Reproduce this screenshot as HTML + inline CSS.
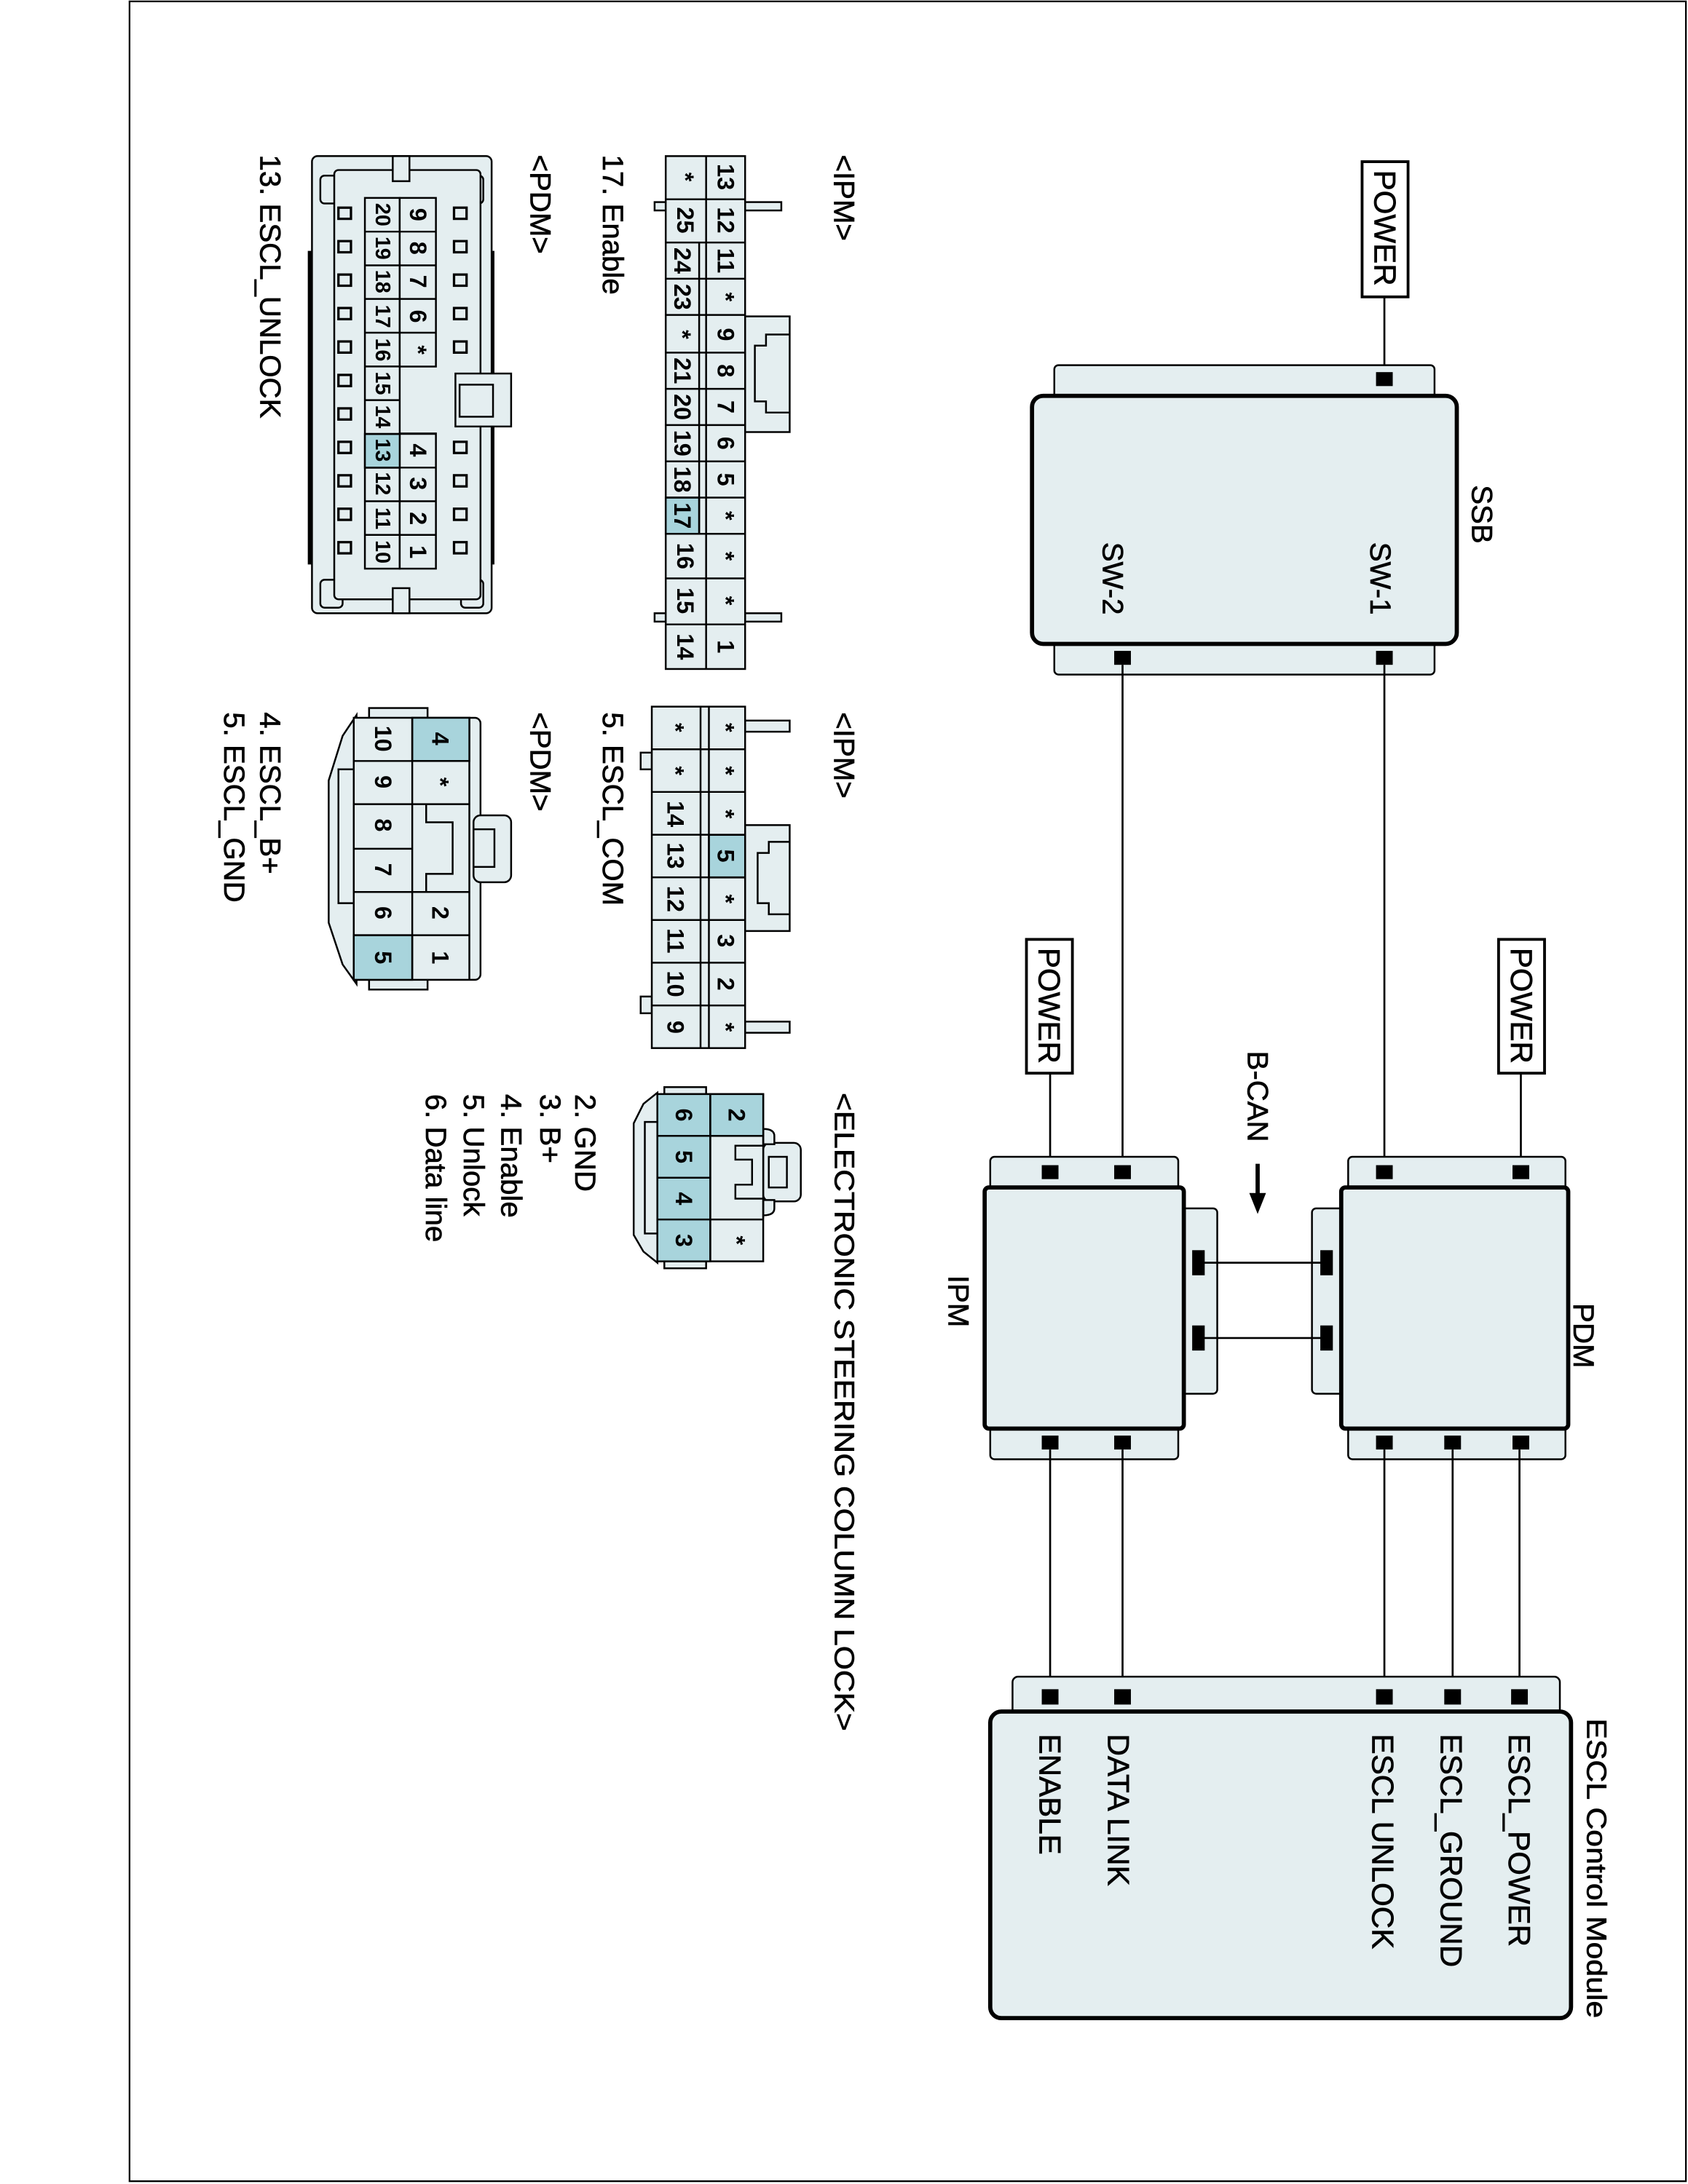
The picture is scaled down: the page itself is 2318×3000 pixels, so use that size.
<!DOCTYPE html>
<html><head><meta charset="utf-8"><style>
html,body{margin:0;padding:0;background:#fff}
svg{display:block}
text{font-family:"Liberation Sans",Arial,sans-serif;fill:#000;dominant-baseline:central;stroke:#000;stroke-width:0.35}
.t{text-anchor:start}
.c{text-anchor:middle;font-size:17px;font-weight:bold}
.c text{stroke-width:0}
.f{fill:#e4eef0;stroke:#000;stroke-width:1.3}
.h{fill:#a8d4dc;stroke:#000;stroke-width:1.3}
.k{stroke:#000;stroke-width:1.3;fill:none}
.w{stroke:#000;stroke-width:1.4;fill:none}
.b{fill:#e4eef0;stroke:#000;stroke-width:3}
</style></head><body>
<svg width="2318" height="3000" viewBox="0 0 1212 1567" preserveAspectRatio="none" xmlns="http://www.w3.org/2000/svg">
<rect x="0" y="0" width="1212" height="1567" fill="#fff"/>
<rect x="93" y="1" width="1117.5" height="1564" fill="none" stroke="#000" stroke-width="1.2"/>

<!-- ===== SSB ===== -->
<rect x="978" y="116" width="33" height="97" fill="#fff" stroke="#000" stroke-width="2"/>
<text class="t" font-size="22" transform="translate(994.5,122) rotate(90)">POWER</text>
<line class="w" x1="994" y1="213" x2="994" y2="272"/>
<rect class="f" x="757" y="262" width="273" height="30" rx="3"/>
<rect class="f" x="757" y="452" width="273" height="32" rx="3"/>
<rect class="b" x="741" y="284" width="305" height="178" rx="8"/>
<rect x="988" y="267" width="12" height="10"/>
<rect x="988" y="467" width="12" height="10"/>
<rect x="800" y="467" width="12" height="10"/>
<text class="t" font-size="21" transform="translate(1064,348) rotate(90)">SSB</text>
<text class="t" font-size="21" transform="translate(991,389) rotate(90)">SW-1</text>
<text class="t" font-size="21" transform="translate(799,389) rotate(90)">SW-2</text>
<line class="w" x1="994" y1="477" x2="994" y2="840"/>
<line class="w" x1="806" y1="477" x2="806" y2="840"/>

<!-- ===== PDM ===== -->
<rect x="1076" y="674" width="33" height="96" fill="#fff" stroke="#000" stroke-width="2"/>
<text class="t" font-size="22" transform="translate(1092.5,680) rotate(90)">POWER</text>
<line class="w" x1="1092" y1="770" x2="1092" y2="840"/>
<rect class="f" x="968" y="830" width="156" height="26" rx="3"/>
<rect class="f" x="968" y="1020" width="156" height="27" rx="3"/>
<rect class="f" x="942" y="867" width="26" height="133" rx="3"/>
<rect class="b" x="963" y="852" width="163" height="173" rx="3"/>
<rect x="988" y="836" width="12" height="10"/>
<rect x="1086" y="836" width="12" height="10"/>
<rect x="988" y="1030" width="12" height="10"/>
<rect x="1037" y="1030" width="12" height="10"/>
<rect x="1086" y="1030" width="12" height="10"/>
<text class="t" font-size="21" transform="translate(1137,935) rotate(90)">PDM</text>

<!-- ===== IPM ===== -->
<rect x="737" y="674" width="33" height="96" fill="#fff" stroke="#000" stroke-width="2"/>
<text class="t" font-size="22" transform="translate(753.5,680) rotate(90)">POWER</text>
<line class="w" x1="754" y1="770" x2="754" y2="840"/>
<rect class="f" x="711" y="830" width="135" height="26" rx="3"/>
<rect class="f" x="711" y="1020" width="135" height="27" rx="3"/>
<rect class="f" x="845" y="867" width="29" height="133" rx="3"/>
<rect class="b" x="707" y="852" width="143" height="173" rx="3"/>
<rect x="748" y="836" width="12" height="10"/>
<rect x="800" y="836" width="12" height="10"/>
<rect x="748" y="1030" width="12" height="10"/>
<rect x="800" y="1030" width="12" height="10"/>
<text class="t" font-size="21" transform="translate(688,915) rotate(90)">IPM</text>

<!-- B-CAN -->
<line class="w" x1="860" y1="906" x2="952" y2="906"/>
<line class="w" x1="860" y1="960" x2="952" y2="960"/>
<rect x="856" y="897" width="9" height="18"/>
<rect x="948" y="897" width="9" height="18"/>
<rect x="856" y="951" width="9" height="18"/>
<rect x="948" y="951" width="9" height="18"/>
<text class="t" font-size="21" transform="translate(903,754) rotate(90)">B-CAN</text>
<line x1="903" y1="835" x2="903" y2="858" stroke="#000" stroke-width="3"/>
<polygon points="897,856 909,856 903,871" fill="#000"/>

<!-- wires to ESCL -->
<line class="w" x1="754" y1="1040" x2="754" y2="1215"/>
<line class="w" x1="806" y1="1040" x2="806" y2="1215"/>
<line class="w" x1="994" y1="1040" x2="994" y2="1215"/>
<line class="w" x1="1043" y1="1040" x2="1043" y2="1215"/>
<line class="w" x1="1091" y1="1040" x2="1091" y2="1215"/>

<!-- ===== ESCL Control Module ===== -->
<rect class="f" x="727" y="1203" width="393" height="30" rx="4"/>
<rect class="b" x="711" y="1228" width="417" height="220" rx="8"/>
<rect x="748" y="1212" width="12" height="11"/>
<rect x="800" y="1212" width="12" height="11"/>
<rect x="988" y="1212" width="12" height="11"/>
<rect x="1037" y="1212" width="12" height="11"/>
<rect x="1085" y="1212" width="12" height="11"/>
<text class="t" font-size="22" transform="translate(1091,1244) rotate(90)">ESCL_POWER</text>
<text class="t" font-size="22" transform="translate(1042,1244) rotate(90)">ESCL_GROUND</text>
<text class="t" font-size="22" transform="translate(993,1244) rotate(90)">ESCL UNLOCK</text>
<text class="t" font-size="22" transform="translate(803,1244) rotate(90)">DATA LINK</text>
<text class="t" font-size="22" transform="translate(754,1244) rotate(90)">ENABLE</text>
<text class="t" font-size="20" textLength="215" lengthAdjust="spacingAndGlyphs" transform="translate(1146,1233) rotate(90)">ESCL Control Module</text>

<!-- ===== Left-side labels ===== -->
<text class="t" font-size="21" transform="translate(606,111) rotate(90)">&lt;IPM&gt;</text>
<text class="t" font-size="21" transform="translate(606,511) rotate(90)">&lt;IPM&gt;</text>
<text class="t" font-size="20" textLength="458" lengthAdjust="spacingAndGlyphs" transform="translate(606,784) rotate(90)">&lt;ELECTRONIC STEERING COLUMN LOCK&gt;</text>
<text class="t" font-size="21" transform="translate(440,111) rotate(90)">17. Enable</text>
<text class="t" font-size="21" transform="translate(440,511) rotate(90)">5. ESCL_COM</text>
<text class="t" font-size="21" transform="translate(388,111) rotate(90)">&lt;PDM&gt;</text>
<text class="t" font-size="21" transform="translate(388,511) rotate(90)">&lt;PDM&gt;</text>
<text class="t" font-size="21" transform="translate(194,111) rotate(90)">13. ESCL_UNLOCK</text>
<text class="t" font-size="21" transform="translate(194,511) rotate(90)">4. ESCL_B+</text>
<text class="t" font-size="21" transform="translate(168,511) rotate(90)">5. ESCL_GND</text>
<text class="t" font-size="21" transform="translate(420,785) rotate(90)">2. GND</text>
<text class="t" font-size="21" transform="translate(395,785) rotate(90)">3. B+</text>
<text class="t" font-size="21" transform="translate(367,785) rotate(90)">4. Enable</text>
<text class="t" font-size="21" transform="translate(340,785) rotate(90)">5. Unlock</text>
<text class="t" font-size="21" transform="translate(313,785) rotate(90)">6. Data line</text>

<!-- ===== IPM 25-pin connector ===== -->
<rect class="f" x="535" y="145" width="26" height="6"/>
<rect class="f" x="535" y="440" width="26" height="6"/>
<rect class="f" x="470" y="145" width="8" height="6"/>
<rect class="f" x="470" y="440" width="8" height="6"/>
<rect class="f" x="535" y="227" width="32" height="83"/>
<path class="k" d="M567,240 L550,240 L550,248 L542,248 L542,288 L550,288 L550,296 L567,296"/>
<rect class="f" x="478" y="112" width="57" height="368"/>
<rect class="h" x="478" y="357" width="24" height="26"/>
<path class="k" d="M478,143H535M478,174H535M478,200H535M478,226H535M478,253H535M478,279H535M478,305H535M478,331H535M478,357H535M478,383H535M478,415H535M478,448H535M507,112V480M502,174V383"/>
<g class="c">
<text transform="translate(521,127) rotate(90)">13</text>
<text transform="translate(521,158) rotate(90)">12</text>
<text transform="translate(521,187) rotate(90)">11</text>
<text transform="translate(521,213) rotate(90)">*</text>
<text transform="translate(521,240) rotate(90)">9</text>
<text transform="translate(521,266) rotate(90)">8</text>
<text transform="translate(521,292) rotate(90)">7</text>
<text transform="translate(521,318) rotate(90)">6</text>
<text transform="translate(521,344) rotate(90)">5</text>
<text transform="translate(521,370) rotate(90)">*</text>
<text transform="translate(521,399) rotate(90)">*</text>
<text transform="translate(521,431) rotate(90)">*</text>
<text transform="translate(521,464) rotate(90)">1</text>
<text transform="translate(492,127) rotate(90)">*</text>
<text transform="translate(492,158) rotate(90)">25</text>
<text transform="translate(490,187) rotate(90)">24</text>
<text transform="translate(490,213) rotate(90)">23</text>
<text transform="translate(490,240) rotate(90)">*</text>
<text transform="translate(490,266) rotate(90)">21</text>
<text transform="translate(490,292) rotate(90)">20</text>
<text transform="translate(490,318) rotate(90)">19</text>
<text transform="translate(490,344) rotate(90)">18</text>
<text transform="translate(490,370) rotate(90)">17</text>
<text transform="translate(492,399) rotate(90)">16</text>
<text transform="translate(492,431) rotate(90)">15</text>
<text transform="translate(492,464) rotate(90)">14</text>
</g>

<!-- ===== IPM 16-pin connector ===== -->
<rect class="f" x="535" y="517" width="32" height="8"/>
<rect class="f" x="535" y="733" width="32" height="8"/>
<rect class="f" x="460" y="540" width="8" height="12"/>
<rect class="f" x="460" y="715" width="8" height="12"/>
<rect class="f" x="535" y="592" width="32" height="76"/>
<path class="k" d="M567,604 L552,604 L552,612 L544,612 L544,648 L552,648 L552,656 L567,656"/>
<rect class="f" x="468" y="507" width="67" height="245"/>
<rect class="h" x="509" y="599" width="26" height="30.6"/>
<path class="k" d="M468,537.6H535M468,568.2H535M468,598.9H535M468,629.5H535M468,660.1H535M468,690.7H535M468,721.4H535M503,507V752M509,507V752"/>
<g class="c">
<text transform="translate(521,522) rotate(90)">*</text>
<text transform="translate(521,553) rotate(90)">*</text>
<text transform="translate(521,584) rotate(90)">*</text>
<text transform="translate(521,614) rotate(90)">5</text>
<text transform="translate(521,645) rotate(90)">*</text>
<text transform="translate(521,675) rotate(90)">3</text>
<text transform="translate(521,706) rotate(90)">2</text>
<text transform="translate(521,737) rotate(90)">*</text>
<text transform="translate(485,522) rotate(90)">*</text>
<text transform="translate(485,553) rotate(90)">*</text>
<text transform="translate(485,584) rotate(90)">14</text>
<text transform="translate(485,614) rotate(90)">13</text>
<text transform="translate(485,645) rotate(90)">12</text>
<text transform="translate(485,675) rotate(90)">11</text>
<text transform="translate(485,706) rotate(90)">10</text>
<text transform="translate(485,737) rotate(90)">9</text>
</g>

<!-- ===== PDM 20-pin connector ===== -->
<rect x="221" y="180" width="5" height="225" fill="#000"/>
<rect x="350" y="180" width="5" height="225" fill="#000"/>
<rect class="f" x="224" y="112" width="129" height="328" rx="4"/>
<rect class="f" x="230" y="126" width="16" height="20" rx="3"/>
<rect class="f" x="331" y="126" width="16" height="20" rx="3"/>
<rect class="f" x="230" y="416" width="16" height="20" rx="3"/>
<rect class="f" x="331" y="416" width="16" height="20" rx="3"/>
<rect class="f" x="240" y="122" width="105" height="308" rx="3"/>
<rect class="f" x="282" y="112" width="12" height="18"/>
<rect class="f" x="282" y="422" width="12" height="18"/>
<g fill="#e4eef0" stroke="#000" stroke-width="1.7">
<rect x="243" y="149" width="9" height="8"/><rect x="243" y="173" width="9" height="8"/><rect x="243" y="197" width="9" height="8"/><rect x="243" y="221" width="9" height="8"/><rect x="243" y="245" width="9" height="8"/><rect x="243" y="269" width="9" height="8"/><rect x="243" y="293" width="9" height="8"/><rect x="243" y="317" width="9" height="8"/><rect x="243" y="341" width="9" height="8"/><rect x="243" y="365" width="9" height="8"/><rect x="243" y="389" width="9" height="8"/>
<rect x="326" y="149" width="9" height="8"/><rect x="326" y="173" width="9" height="8"/><rect x="326" y="197" width="9" height="8"/><rect x="326" y="221" width="9" height="8"/><rect x="326" y="245" width="9" height="8"/><rect x="326" y="317" width="9" height="8"/><rect x="326" y="341" width="9" height="8"/><rect x="326" y="365" width="9" height="8"/><rect x="326" y="389" width="9" height="8"/>
</g>
<rect class="f" x="327" y="268" width="40" height="38"/>
<rect class="f" x="330" y="276" width="24" height="23"/>
<rect class="f" x="262" y="142" width="25" height="266"/>
<rect class="f" x="287" y="142" width="26" height="121"/>
<rect class="f" x="287" y="311" width="26" height="97"/>
<rect class="h" x="262" y="311.4" width="25" height="24.2"/>
<path class="k" d="M262,166.2H313M262,190.4H313M262,214.5H313M262,238.7H313M262,262.9H287M262,287.1H287M262,311.3H313M262,335.5H313M262,359.6H313M262,383.8H313"/>
<g class="c">
<text transform="translate(300,154) rotate(90)">9</text>
<text transform="translate(300,178) rotate(90)">8</text>
<text transform="translate(300,202) rotate(90)">7</text>
<text transform="translate(300,227) rotate(90)">6</text>
<text transform="translate(300,251) rotate(90)">*</text>
<text transform="translate(300,323) rotate(90)">4</text>
<text transform="translate(300,347) rotate(90)">3</text>
<text transform="translate(300,372) rotate(90)">2</text>
<text transform="translate(300,396) rotate(90)">1</text>
<text font-size="15" transform="translate(274.5,154) rotate(90)">20</text>
<text font-size="15" transform="translate(274.5,178) rotate(90)">19</text>
<text font-size="15" transform="translate(274.5,202) rotate(90)">18</text>
<text font-size="15" transform="translate(274.5,227) rotate(90)">17</text>
<text font-size="15" transform="translate(274.5,251) rotate(90)">16</text>
<text font-size="15" transform="translate(274.5,275) rotate(90)">15</text>
<text font-size="15" transform="translate(274.5,299) rotate(90)">14</text>
<text font-size="15" transform="translate(274.5,323) rotate(90)">13</text>
<text font-size="15" transform="translate(274.5,347) rotate(90)">12</text>
<text font-size="15" transform="translate(274.5,372) rotate(90)">11</text>
<text font-size="15" transform="translate(274.5,396) rotate(90)">10</text>
</g>

<!-- ===== PDM 10-pin connector ===== -->
<rect class="f" x="265" y="508" width="42" height="8"/>
<rect class="f" x="265" y="702" width="42" height="8"/>
<polygon class="f" points="256,513 246,528 236,560 236,662 246,692 256,706"/>
<path class="k" d="M254,552 H243 V648 H254"/>
<rect class="f" x="334" y="515" width="11" height="188" rx="4"/>
<rect class="f" x="340" y="585" width="27" height="48" rx="5"/>
<rect class="f" x="340" y="595" width="15" height="27"/>
<rect class="f" x="254" y="515" width="83" height="188"/>
<rect class="h" x="296" y="515" width="41" height="31"/>
<rect class="h" x="254" y="671" width="42" height="32"/>
<path class="k" d="M254,546H337M254,577H296M254,609H296M254,640H296M254,671H337M296,515V703"/>
<rect x="300" y="578" width="36" height="61" fill="#e4eef0"/>
<path class="k" d="M337,577 H306 V590 H325 V627 H306 V640 H337 M296,577H306M296,640H306"/>
<g class="c">
<text transform="translate(316,530) rotate(90)">4</text>
<text transform="translate(316,561) rotate(90)">*</text>
<text transform="translate(316,655) rotate(90)">2</text>
<text transform="translate(316,687) rotate(90)">1</text>
<text transform="translate(275,530) rotate(90)">10</text>
<text transform="translate(275,561) rotate(90)">9</text>
<text transform="translate(275,592) rotate(90)">8</text>
<text transform="translate(275,624) rotate(90)">7</text>
<text transform="translate(275,655) rotate(90)">6</text>
<text transform="translate(275,687) rotate(90)">5</text>
</g>

<!-- ===== ESCL 6-pin connector ===== -->
<rect class="f" x="477" y="780" width="30" height="6"/>
<rect class="f" x="477" y="904" width="30" height="6"/>
<polygon class="f" points="472,784 462,792 455,806 455,886 462,898 472,906"/>
<path class="k" d="M472,805 H463 V885 H472"/>
<rect class="f" x="548" y="820" width="27" height="42" rx="5"/>
<rect class="f" x="552" y="830" width="13" height="22"/>
<path class="f" d="M548,810 q8,0 8,5 v6 h-8 z M548,861 h8 v6 q0,5 -8,5 z"/>
<rect class="f" x="472" y="785" width="76" height="120"/>
<rect class="h" x="472" y="785" width="38" height="120"/>
<rect class="h" x="510" y="785" width="38" height="30"/>
<rect x="511" y="816" width="36" height="58" fill="#e4eef0"/>
<path class="k" d="M472,815H548M472,845H510M472,875H548M510,785V905M548,816V821M548,861V874 M548,822 H528 V832 H540 V850 H528 V860 H548"/>
<g class="c">
<text transform="translate(529,800) rotate(90)">2</text>
<text transform="translate(529,890) rotate(90)">*</text>
<text transform="translate(491,800) rotate(90)">6</text>
<text transform="translate(491,830) rotate(90)">5</text>
<text transform="translate(491,860) rotate(90)">4</text>
<text transform="translate(491,890) rotate(90)">3</text>
</g>
</svg>
</body></html>
